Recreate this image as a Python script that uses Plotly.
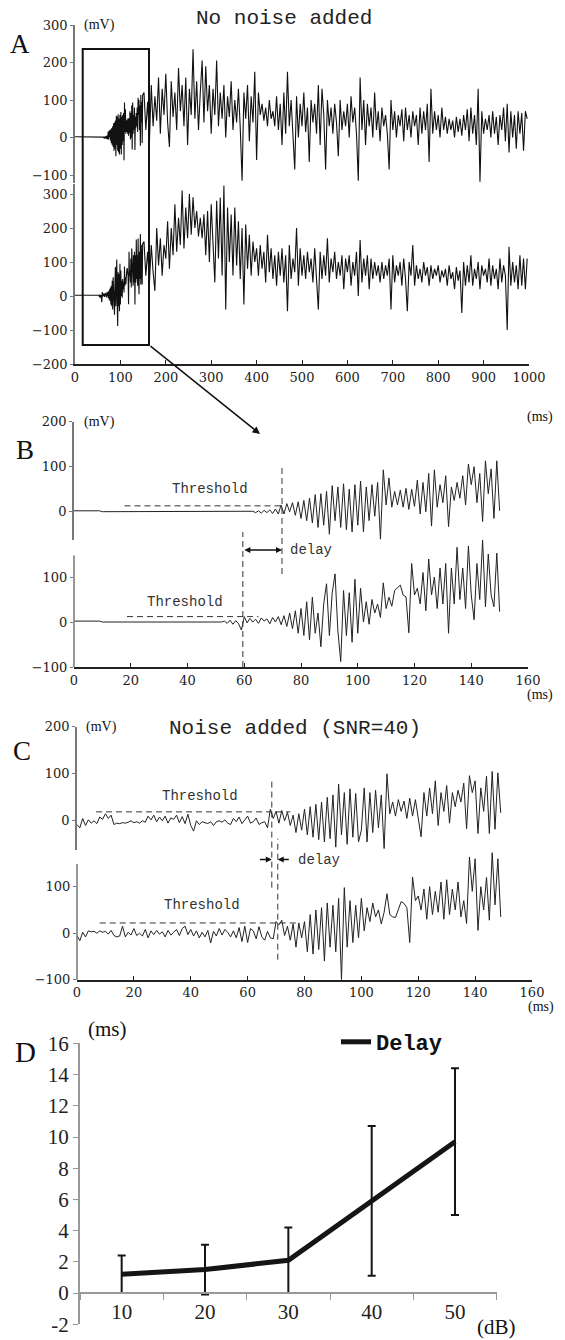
import plotly.graph_objects as go

OFF = 8  # the page body has an 8 px margin
W, H = 565 - OFF, 1340 - OFF   # figure size so that page + margin fits the window exactly

# ---------------- data ----------------
# Panels B / C: 1 ms sampling (ms 0 .. end)
B_top = [2, 2, 2, 2, 2, 2, 2, 2, 2, 2,
         0, 0, 0, 0, 0, 0, 0, 0, 0, 0, 0, 0, 0, 0, 0, 0, 0, 0, 0, 0, 0, 0, 0, 0, 0, 0,
         0, 0, 0, 0, 0, 0, 0, 0, 0, 0, 0, 0, 0, 0, 0, 0, 0, 0, 0, 0, 0, 0, 0, 0, 0, 0, 0,
         1, -2, 2, -3, 3, -2, 4, -4, 6, -5,
         15, -5, 18, 0, 20, -8, 22,
         -15, 25, -20, 30, -25, 38, -35, 40, -30, 45,
         -50, 58, -20, 55, -35, 62, -40, 50, -45, 60,
         -30, 68, -45, 55, -20, 60, -10, 65, -61, 93,
         15, 75, 10, 45, 15, 48, 10, 52, 5, 50,
         12, 70, -5, 65, 0, 85, -32, 93, 10, 60,
         20, 80, -33, 55, 25, 65, 30, 80, 15, 106,
         60, 100, 20, 85, -22, 113, 40, 95, -15, 113,
         2]

B_bot = [2, 2, 2, 2, 2, 2, 2, 2, 2, 2,
         0, 0, 0, 0, 0, 0, 0, 0, 0, 0, 0, 0, 0, 0, 0, 0, 0, 0, 0, 0, 0, 0,
         0, 0, 0, 0, 0, 0, 0, 0, 0, 0, 0, 0, 0, 0, 0, 0, 0, 0, 0, 0, 0,
         2, -3, 4, -5, 3, -4,
         -18, 12,
         -2, 8, 0, 6, -3, 9, 2, 7, -4, 10, 0, 12, -6, 14,
         -10, 20, -15, 25, -25,
         30, -30, 45, -40, 55, -25,
         20, -55, 40, 85, -30, 65, 107, -20, -88, 70, -30, 65, -45, 95,
         -25, 75, 0, 45, -5, 50, 20, 40, 10, 87,
         30, 55, 35, 70, 75, 82, 60, 56, -24, 130,
         60, 75, 40, 110, 25, 140, 60, 100, 30, 120,
         40, 130, -25, 120, 40, 166, 50, 120, 30, 169,
         60, 5, 130, 50, 182, 34, 151, 60, 34, 153,
         23]

C_top = [-8, -15, 5, -10, 2, -5, 0, -6, 8, 3,
         15, 5, 12, -8, -5, -6, -4, -5, -3, 0,
         -4, -2, -5, 0, -3, 10, 2, 12, -2, 8,
         0, 10, -5, 6, 3, 12, -4, 9, -6, 14,
         -10, -22, 0, -8, -2, -4, -6, -2, -10, -2,
         0, -3, 2, -5, -8, 5, -2, 8, -6, 2,
         10, -5, -2, 6, -8, -4, -2, -15,
         25, 5, 20, -5, 22, 0, 18, -10, 12, -25, 15, -20,
         25, -30, 30, -35, 35, -40, 40, -45, 50, -38,
         55, -56, 78, -30, 60, -50, 68, -35, 58, -45,
         -20, 70, -45, 60, -25, 65, -15, 55, -59, 100,
         15, 40, 10, 45, 20, 42, 5, 48, 10, 45,
         5, -34, 60, 10, 70, 15, 85, -10, 60, 20,
         75, -5, 60, 30, 65, 40, 80, -17, 96, 60,
         85, -27, 70, 20, 95, -27, 105, -18, 102, 17]

C_bot = [-5, -16, 2, -8, 5, 3, 4, 0, 5, 2,
         4, -2, 6, -5, -8, -6, 15, -8, 2, -4,
         10, -5, 0, -6, 8, -10, 5, -3, 6, -2,
         3, -8, 6, -4, 2, 8, -5, 10, 15, -3,
         8, -6, 5, -10, 2, -8, 6, -21, 4, -6,
         10, -4, 8, 2, -8, 5, -10, 12, -18, 15,
         -20, 10, 5, -12, 14, -8, -15, 4, -10, -12,
         25, 18, 28, -5, 15, -15, 20, -30, 22, -10,
         25, -40, 40, -45, 50, -35, 55, -60, 65, -30,
         60, -40, 75, -100, 98, -30, 70, -20, 60, -10,
         75, 5, 55, 25, 65, 35, 50, 20, 45, 85,
         40, 35, 34, 50, 68, 64, 55, -20, 121, 70,
         80, 50, 95, 30, 100, 40, 90, 45, 110, 30,
         115, 40, 95, 50, 110, 35, 70, 21, 164, 90,
         160, 6, 100, 50, 120, 28, 173, 61, 160, 35]

# Panel A: first 150 ms are the signals of panel B; after that, 4 ms sampling (152..996 ms)
A_top_late = [120, 20, 95, -10, 140, 30, 110, 45, 160, 10, 130, 60, 170, 40, -25, 150, 55, 120, 20, 185, 70, 140, 30, 160, -20,
              130, 60, 235, 50, 150, 20, 120, 205, 40, 190, 70, 140, 10, 130, 60, 205, 30, 120, 50, 140, 0, 110, 55, 150, 20,
              100, 40, 130, 25, -115, 120, 50, 140, -10, 110, 40, 175, -60, 120, 60, 90, 45, 80, 30, 100, 50, 70, 30, 110, 20,
              90, -20, 120, 10, 175, 30, 100, 20, -85, 110, 0, 90, 30, 120, 15, 80, -65, 100, 40, 90, 10, 140, -20, 130, 60,
              -85, 100, 30, 80, 10, 90, 40, -50, 100, 20, 70, 30, 90, 0, 110, 40, 80, 10, -115, 160, 20, 100, -20, 90, 30,
              80, 0, 120, 20, 70, -10, 80, 30, 60, 10, -85, 100, 20, 70, 0, 60, 30, 75, -10, 80, 20, 60, 0, 70, 30,
              60, -20, 80, 10, 70, 20, 90, -65, 130, 10, 70, 20, 60, 0, 80, 20, 55, 10, 50, 20, 45, 0, 55, 15, 50,
              5, 60, 20, 75, -10, 80, 10, 60, -20, 130, -118, 70, 10, 50, 20, 60, 0, 70, 10, 55, -20, 60, 20, 80, -10,
              90, -40, 70, 0, 60, -30, 70, 10, 65, -35, 70, 50]

A_bot_late = [160, 60, 130, 40, 150, 70, 15, 200, 90, 170, 60, 150, 110, 220, 80, 200, 120, 270, 130, 230, 150, 310, 140, 260, 170,
              300, 180, 290, 200, 250, 175, 230, 170, 240, 120, 250, 100, 270, 150, 40, 280, 110, 290, 60, 325, -40, 260, 100, 240, 60,
              260, 90, 220, 50, 200, -25, 210, 80, 180, 60, 160, 100, 140, 60, 150, 80, 130, 40, 180, 70, 140, 50, 120, 30, 130,
              60, 140, 40, 120, -45, 150, 50, 110, 70, 200, 30, 140, 60, 120, 50, 130, 70, 110, 40, 140, 60, -40, 130, 50, 120,
              60, 170, 40, 110, 70, 130, 50, 100, 60, 120, 20, 110, 70, 120, 30, 100, 60, 130, 0, 165, 40, 110, 60, 120, 20,
              110, 50, 100, 60, 90, 40, 100, 50, 90, 60, 110, -40, 120, 40, 90, 60, 100, 30, 110, 50, -45, 100, 60, 150, 30,
              90, 50, 80, 40, 100, 60, 85, 30, 90, 50, 80, 60, 90, 40, 75, 55, 80, 30, 90, 50, 70, 20, 85, 45, 75,
              -50, 100, 30, 90, 40, 120, 30, 80, 50, 100, 20, 90, 60, 80, 40, 110, 30, 90, 50, 80, 20, 110, 40, 90, 60,
              -100, 145, 30, 100, 40, 90, 20, 120, 30, 110, 20, 110]

# Panel D
snr_db = ["10", "20", "30", "40", "50"]
delay_ms = [1.2, 1.5, 2.1, 5.9, 9.7]
delay_sd = [1.2, 1.6, 2.1, 4.8, 4.7]

# ---------------- helpers (window pixel -> paper fraction) ----------------
def px(x):
    return (x - OFF) / W


def py(y):
    return 1 - (y - OFF) / H


def yax(zero, ppu, top, bot, **kw):
    d = dict(domain=[py(bot), py(top)], range=[(zero - bot) / ppu, (zero - top) / ppu])
    d.update(kw)
    return d


SER = "DejaVu Serif"
TIMES = "Liberation Serif"
MONO = "Liberation Mono"

ysty = dict(linecolor="#777", linewidth=1.5, ticks="outside", ticklen=3,
            tickcolor="#777", tickfont=dict(family=SER, size=13, color="#222"),
            showgrid=False, zeroline=False, automargin=False)
xsty = dict(showline=True, linecolor="#222", linewidth=2, ticks="inside", ticklen=4,
            tickcolor="#222", tickfont=dict(family=SER, size=13, color="#222"),
            showgrid=False, zeroline=False, automargin=False)

t_A = list(range(150)) + list(range(152, 1000, 4))
A_top = B_top[:150] + A_top_late
A_bot = B_bot[:150] + A_bot_late

fig = go.Figure()
sig = dict(mode="lines", showlegend=False, hoverinfo="skip")
fig.add_trace(go.Scatter(x=t_A, y=A_top, xaxis="x", yaxis="y", line=dict(color="#111", width=1.1), **sig))
fig.add_trace(go.Scatter(x=t_A, y=A_bot, xaxis="x", yaxis="y2", line=dict(color="#111", width=1.1), **sig))
fig.add_trace(go.Scatter(x=list(range(len(B_top))), y=B_top, xaxis="x2", yaxis="y3", line=dict(color="#222", width=1), **sig))
fig.add_trace(go.Scatter(x=list(range(len(B_bot))), y=B_bot, xaxis="x2", yaxis="y4", line=dict(color="#222", width=1), **sig))
fig.add_trace(go.Scatter(x=list(range(len(C_top))), y=C_top, xaxis="x3", yaxis="y6", line=dict(color="#222", width=1), **sig))
fig.add_trace(go.Scatter(x=list(range(len(C_bot))), y=C_bot, xaxis="x3", yaxis="y7", line=dict(color="#222", width=1), **sig))

fig.add_trace(go.Scatter(x=snr_db, y=delay_ms, xaxis="x4", yaxis="y5", mode="lines", name="Delay",
                         line=dict(color="#151515", width=5),
                         error_y=dict(type="data", array=delay_sd, visible=True, color="#151515",
                                      thickness=2, width=4),
                         showlegend=True))

# ---------------- annotations ----------------
def txt(x, y, s, size, family, xanchor="center", yanchor="middle", color="#111", weight="normal",
        xref="paper", yref="paper"):
    return dict(x=px(x) if xref == "paper" else x, y=py(y) if yref == "paper" else y,
                xref=xref, yref=yref, text=s, showarrow=False,
                font=dict(family=family, size=size, color=color, weight=weight),
                xanchor=xanchor, yanchor=yanchor)


anns = [
    txt(20, 44, "A", 27, TIMES),
    txt(24.5, 450, "B", 27, TIMES),
    txt(22.4, 751, "C", 27, TIMES),
    txt(25, 1052, "D", 29, TIMES),
    txt(284, 19, "No noise added", 21, MONO, color="#222"),
    txt(295, 728, "Noise added (SNR=40)", 21, MONO, color="#222"),
    txt(82, 25, "(mV)", 14, TIMES, xanchor="left"),
    txt(82, 421.7, "(mV)", 14, TIMES, xanchor="left"),
    txt(84, 726.8, "(mV)", 14, TIMES, xanchor="left"),
    txt(555, 417, "(ms)", 14, TIMES, xanchor="right"),
    txt(555, 695, "(ms)", 14, TIMES, xanchor="right"),
    txt(556, 1007, "(ms)", 14, TIMES, xanchor="right"),
    txt(107, 1029, "(ms)", 21, TIMES),
    txt(497, 1327, "(dB)", 21, TIMES),
    txt(47.9, 50, "Threshold", 14, MONO, color="#333", xref="x2", yref="y3"),
    txt(39, 45, "Threshold", 14, MONO, color="#333", xref="x2", yref="y4"),
    txt(43.1, 53, "Threshold", 14, MONO, color="#333", xref="x3", yref="y6"),
    txt(43.8, 59.6, "Threshold", 14, MONO, color="#333", xref="x3", yref="y7"),
    txt(75.5, 160, "delay", 14, MONO, color="#333", xanchor="left", xref="x2", yref="y4"),
    txt(77, 158.5, "delay", 14, MONO, color="#333", xanchor="left", xref="x3", yref="y7"),
    # zoom arrow
    dict(x=px(260), y=py(434), xref="paper", yref="paper", ax=149 - 260, ay=345 - 434,
         axref="pixel", ayref="pixel", showarrow=True, arrowhead=2, arrowsize=1,
         arrowwidth=1.5, arrowcolor="#111", text=""),
    # delay arrows
    dict(x=73.3, y=160, xref="x2", yref="y4", ax=59.5, ay=160, axref="x2", ayref="y4",
         showarrow=True, arrowhead=2, arrowside="end+start", arrowsize=0.8, arrowwidth=1.5,
         arrowcolor="#111", text=""),
    dict(x=68.5, y=158.5, xref="x3", yref="y7", ax=63.8, ay=158.5, axref="x3", ayref="y7",
         showarrow=True, arrowhead=2, arrowsize=0.8, arrowwidth=1.5, arrowcolor="#111", text=""),
    dict(x=70.6, y=158.5, xref="x3", yref="y7", ax=75.0, ay=158.5, axref="x3", ayref="y7",
         showarrow=True, arrowhead=2, arrowsize=0.8, arrowwidth=1.5, arrowcolor="#111", text=""),
]

dash = dict(color="#333", width=1, dash="6px,4px")
axline = dict(color="#777", width=1.5)
shapes = [
    dict(type="rect", xref="paper", yref="paper", x0=px(82.7), x1=px(149), y0=py(345), y1=py(49),
         line=dict(color="#111", width=2)),
    # visible part of the lower y axes of B and C (the data area extends higher)
    dict(type="line", xref="paper", yref="paper", x0=px(74), x1=px(74), y0=py(667), y1=py(555.4), line=axline),
    dict(type="line", xref="paper", yref="paper", x0=px(77), x1=px(77), y0=py(979.7), y1=py(864), line=axline),
    # thresholds
    dict(type="line", xref="x2", yref="y3", x0=17.8, x1=73, y0=13, y1=13, line=dash),
    dict(type="line", xref="x2", yref="y4", x0=18.7, x1=65, y0=12, y1=12, line=dash),
    dict(type="line", xref="x3", yref="y6", x0=6.7, x1=75, y0=19, y1=19, line=dash),
    dict(type="line", xref="x3", yref="y7", x0=8, x1=78.4, y0=22, y1=22, line=dash),
    # onset markers
    dict(type="line", xref="x2", yref="paper", x0=73.3, x1=73.3, y0=py(574), y1=py(468), line=dash),
    dict(type="line", xref="x2", yref="paper", x0=59.5, x1=59.5, y0=py(667), y1=py(532), line=dash),
    dict(type="line", xref="x3", yref="paper", x0=68.5, x1=68.5, y0=py(887.6), y1=py(778.5), line=dash),
    dict(type="line", xref="x3", yref="paper", x0=70.6, x1=70.6, y0=py(959.7), y1=py(838.7), line=dash),
]

fig.update_layout(
    width=W, height=H, margin=dict(l=0, r=0, t=0, b=0, autoexpand=False),
    paper_bgcolor="white", plot_bgcolor="rgba(0,0,0,0)",
    annotations=anns, shapes=shapes,
    legend=dict(x=px(336), y=py(1042), xanchor="left", yanchor="middle",
                font=dict(family=MONO, size=22, color="#111", weight="bold"),
                bgcolor="rgba(255,255,255,0)", borderwidth=0, itemwidth=30),
    # Panel A
    xaxis=dict(domain=[px(75), px(529)], range=[0, 1000], anchor="y2",
               tickvals=list(range(0, 1001, 100)), **xsty),
    yaxis=yax(137.5, 0.375, 25, 182.5, anchor="x", showline=True,
              tickvals=[-100, 0, 100, 200, 300], **ysty),
    yaxis2=yax(296, 0.34, 183.8, 364, anchor="x", showline=True,
               tickvals=[-200, -100, 0, 100, 200, 300], **ysty),
    # Panel B
    xaxis2=dict(domain=[px(74), px(528)], range=[0, 160], anchor="y4",
                tickvals=list(range(0, 161, 20)), **xsty),
    yaxis3=yax(511.7, 0.45, 421.7, 540, anchor="x2", showline=True, tickvals=[0, 100, 200], **ysty),
    yaxis4=yax(622, 0.45, 480, 667, anchor="x2", showline=False, tickvals=[-100, 0, 100], **ysty),
    # Panel C
    xaxis3=dict(domain=[px(77), px(532)], range=[0, 160], anchor="y7",
                tickvals=list(range(0, 161, 20)), **xsty),
    yaxis6=yax(820.8, 0.47, 726.8, 850, anchor="x3", showline=True, tickvals=[0, 100, 200], **ysty),
    yaxis7=yax(933.2, 0.465, 760, 979.7, anchor="x3", showline=False, tickvals=[-100, 0, 100], **ysty),
    # Panel D
    xaxis4=dict(type="category", domain=[px(80), px(496.7)], range=[-0.5, 4.5],
                anchor="free", position=py(1293), tickson="boundaries", ticks="outside",
                ticklen=6, tickcolor="#999", showline=True, linecolor="#999", linewidth=2,
                tickfont=dict(family=TIMES, size=21, color="#222"), showgrid=False,
                zeroline=False, automargin=False),
    yaxis5=yax(1293, 15.6, 1293 - 16 * 15.6, 1293 + 2 * 15.6, anchor="x4",
               tickvals=list(range(-2, 17, 2)), ticktext=[str(v) for v in range(-2, 17, 2)],
               ticks="outside", ticklen=5, tickcolor="#999", showline=True, linecolor="#999",
               linewidth=2, tickfont=dict(family=TIMES, size=21, color="#222"),
               showgrid=False, zeroline=False, automargin=False),
)

fig.write_html("out.html")
